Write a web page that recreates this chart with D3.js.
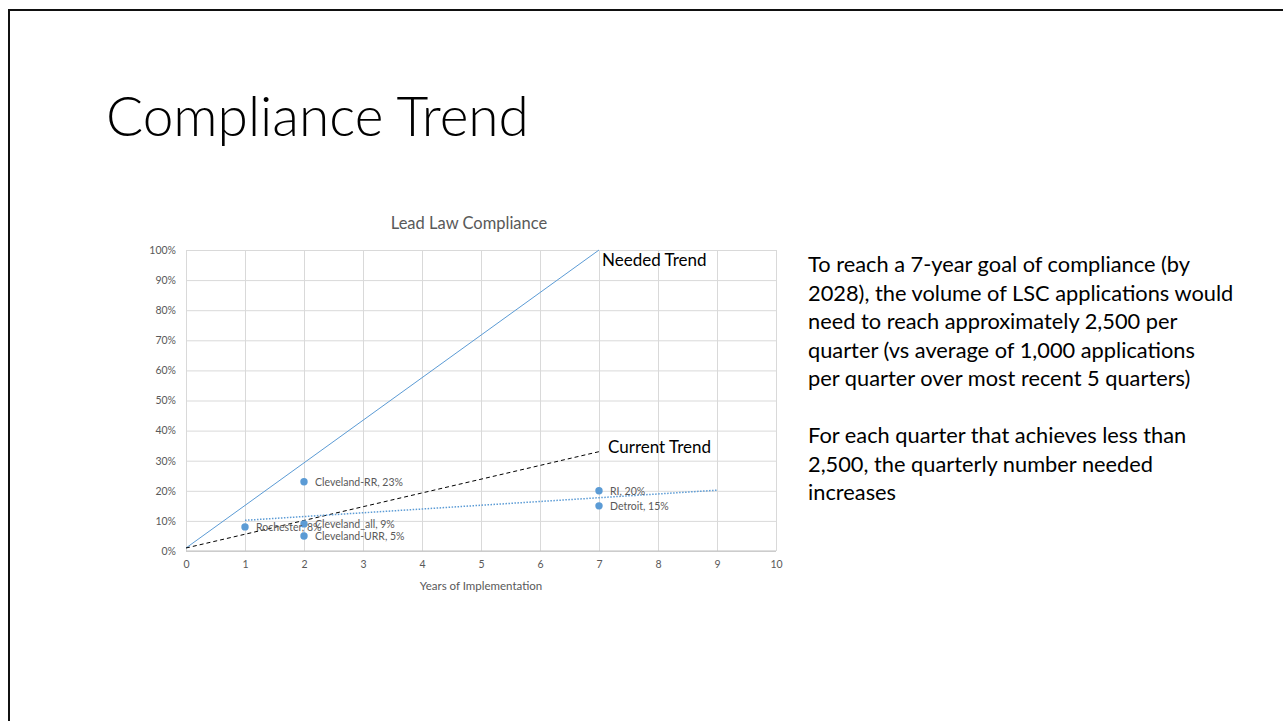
<!DOCTYPE html>
<html>
<head>
<meta charset="utf-8">
<script src="https://cdn.jsdelivr.net/npm/d3@7"></script>
<style>
  html, body { margin: 0; padding: 0; background: #ffffff; }
  svg { display: block; }
  text { font-family: Lato, "Open Sans", "Noto Sans", sans-serif; }
</style>
</head>
<body>
<svg id="chart" width="1283" height="721"></svg>
<script>
// ---- data ----
const siteNames = ["Rochester", "Cleveland-RR", "Cleveland_all", "Cleveland-URR", "RI", "Detroit"];
const years = [1, 2, 2, 2, 7, 7];
const compliance = [8, 23, 9, 5, 20, 15];

const neededTrendX = [0, 7];
const neededTrendY = [1, 100];
const currentTrendX = [0, 7];
const currentTrendY = [1, 33];
const fitTrendX = [1, 9];
const fitTrendY = [10.2, 20.2];

const xTicks = [0, 1, 2, 3, 4, 5, 6, 7, 8, 9, 10];
const yTicks = [0, 10, 20, 30, 40, 50, 60, 70, 80, 90, 100];

const slideTitle = "Compliance Trend";
const chartTitle = "Lead Law Compliance";
const xAxisTitle = "Years of Implementation";
const neededLabel = "Needed Trend";
const currentLabel = "Current Trend";
const bodyLines = [
  "To reach a 7-year goal of compliance (by",
  "2028), the volume of LSC applications would",
  "need to reach approximately 2,500 per",
  "quarter (vs average of 1,000 applications",
  "per quarter over most recent 5 quarters)",
  "",
  "For each quarter that achieves less than",
  "2,500, the quarterly number needed",
  "increases"
];

// ---- layout ----
const svg = d3.select("#chart");
const plot = { left: 186, right: 776, top: 250, bottom: 551 };
const x = d3.scaleLinear().domain([0, 10]).range([plot.left, plot.right]);
const y = d3.scaleLinear().domain([0, 100]).range([plot.bottom, plot.top]);

const blue = "#5B9BD5";
const grey = "#595959";

// slide border
svg.append("line").attr("x1", 9).attr("x2", 1283).attr("y1", 10).attr("y2", 10)
  .attr("stroke", "#111").attr("stroke-width", 2);
svg.append("line").attr("x1", 9).attr("x2", 9).attr("y1", 9).attr("y2", 721)
  .attr("stroke", "#111").attr("stroke-width", 2);

// slide title
svg.append("text").attr("x", 106).attr("y", 136)
  .attr("font-size", 55).attr("font-weight", 300).attr("fill", "#000")
  .text(slideTitle);

// body text
svg.append("g").selectAll("text").data(bodyLines).join("text")
  .attr("x", 808).attr("y", (d, i) => 272 + i * 28.5)
  .attr("font-size", 21.8).attr("fill", "#000")
  .text(d => d);

// chart title
svg.append("text").attr("x", 469).attr("y", 229).attr("text-anchor", "middle")
  .attr("font-size", 16.5).attr("fill", grey).text(chartTitle);

// gridlines
const gridY = svg.append("g").attr("transform", `translate(${plot.left},0)`)
  .call(d3.axisLeft(y).tickValues(yTicks).tickSize(-(plot.right - plot.left)).tickFormat(""));
gridY.select(".domain").remove();
gridY.selectAll("line").attr("stroke", "#D9D9D9").attr("stroke-width", 1);

const gridX = svg.append("g").attr("transform", `translate(0,${plot.bottom})`)
  .call(d3.axisBottom(x).tickValues(xTicks).tickSize(-(plot.bottom - plot.top)).tickFormat(""));
gridX.select(".domain").remove();
gridX.selectAll("line").attr("stroke", "#D9D9D9").attr("stroke-width", 1);

// baseline axis line
svg.append("line").attr("x1", plot.left).attr("x2", plot.right)
  .attr("y1", y(0)).attr("y2", y(0)).attr("stroke", "#BFBFBF").attr("stroke-width", 1);

// axes labels
const yAxis = svg.append("g").attr("transform", `translate(${plot.left},0)`)
  .call(d3.axisLeft(y).tickValues(yTicks).tickSize(0).tickPadding(10).tickFormat(d => d + "%"));
yAxis.select(".domain").remove();
yAxis.selectAll("text").attr("font-size", 10.5).attr("fill", grey)
  .attr("font-family", "Lato, 'Open Sans', sans-serif");

const xAxis = svg.append("g").attr("transform", `translate(0,${plot.bottom})`)
  .call(d3.axisBottom(x).tickValues(xTicks).tickSize(0).tickPadding(10).tickFormat(d3.format("d")));
xAxis.select(".domain").remove();
xAxis.selectAll("text").attr("font-size", 10.5).attr("fill", grey)
  .attr("font-family", "Lato, 'Open Sans', sans-serif");

svg.append("text").attr("x", (plot.left + plot.right) / 2).attr("y", 590)
  .attr("text-anchor", "middle").attr("font-size", 11.5).attr("fill", grey).text(xAxisTitle);

// trend lines
const line = d3.line().x(d => x(d[0])).y(d => y(d[1]));
svg.append("path").datum(neededTrendX.map((v, i) => [v, neededTrendY[i]]))
  .attr("d", line).attr("fill", "none").attr("stroke", blue).attr("stroke-width", 1);
svg.append("path").datum(currentTrendX.map((v, i) => [v, currentTrendY[i]]))
  .attr("d", line).attr("fill", "none").attr("stroke", "#000").attr("stroke-width", 1)
  .attr("stroke-dasharray", "4,3");
svg.append("path").datum(fitTrendX.map((v, i) => [v, fitTrendY[i]]))
  .attr("d", line).attr("fill", "none").attr("stroke", blue).attr("stroke-width", 1.5)
  .attr("stroke-dasharray", "1.5,1.5");

// points
const pts = years.map((v, i) => ({ x: v, y: compliance[i], name: siteNames[i] }));
svg.append("g").selectAll("circle").data(pts).join("circle")
  .attr("cx", d => x(d.x)).attr("cy", d => y(d.y)).attr("r", 3.7).attr("fill", blue);
svg.append("g").selectAll("text").data(pts).join("text")
  .attr("x", d => x(d.x) + 11).attr("y", d => y(d.y) + 3.8)
  .attr("font-size", 10.5).attr("fill", grey)
  .text(d => `${d.name}, ${d.y}%`);

// trend annotations
svg.append("text").attr("x", x(7) + 3).attr("y", 266).attr("font-size", 17).attr("fill", "#000").text(neededLabel);
svg.append("text").attr("x", x(7) + 9).attr("y", 453).attr("font-size", 17).attr("fill", "#000").text(currentLabel);
</script>
</body>
</html>
